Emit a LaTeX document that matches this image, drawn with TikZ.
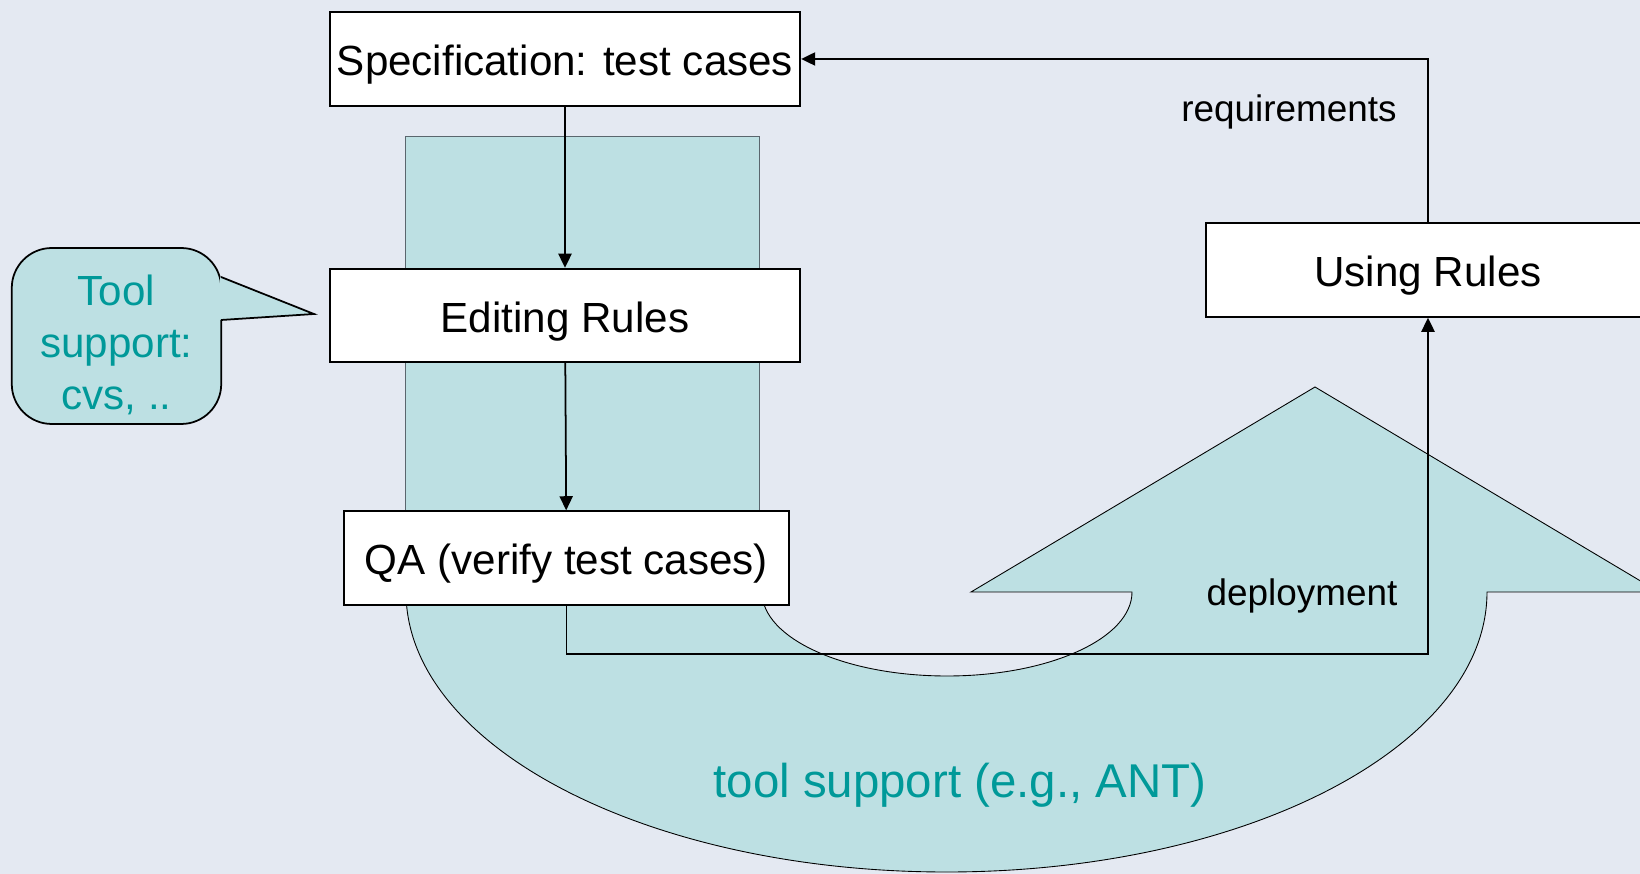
\documentclass[tikz,border=0pt]{standalone}
\usepackage{fontspec}
\setmainfont{Liberation Sans}
\usetikzlibrary{arrows.meta}

\definecolor{bgblue}{HTML}{E4E9F2}
\definecolor{tealfill}{HTML}{BDE0E3}
\definecolor{tealtext}{HTML}{009999}
\definecolor{edgegrey}{HTML}{5A666E}

\begin{document}
\begin{tikzpicture}
    [x=0.02cm, y=-0.02cm,
     box/.style={rectangle, draw, line width=1.1pt, fill=white, minimum height=1.87cm, text height=22pt, text depth=3pt, font=\fontsize{24}{29}\selectfont},
     label/.style={font=\fontsize{21}{25}\selectfont},
     arr/.style={line width=1pt, -{Triangle[length=8pt,width=7.5pt]}},
     shade/.style={fill=tealfill, draw, line width=0.5pt}]
    \useasboundingbox (0,0) rectangle (1640,874);
    \fill[bgblue] (0,0) rectangle (1640,874);
    \clip (0,0) rectangle (1640,874);

    % background shaft and U-turn arrow
    \draw[shade, draw=edgegrey] (405,136) rectangle (759,600);
    \draw[shade] (406,592) arc[start angle=180, end angle=0, x radius=540.5, y radius=280]
        -- (1659,592) -- (1315,387) -- (971,592) -- (1132,592)
        arc[start angle=0, end angle=180, x radius=185, y radius=84] -- cycle;
    \node[text=tealtext, font=\fontsize{27}{32}\selectfont] (ant) at (960,785) {tool support (e.g., ANT)};

    % callout
    \node[shade, line width=1pt, rounded corners=0.8cm, minimum width=4.19cm, minimum height=3.52cm] (callout) at (116.5,336) {};
    \coordinate (tip) at (314,314);
    \fill[tealfill] (220,277) -- (tip) -- (220,320) -- cycle;
    \draw[line width=1pt] (221,277) -- (tip) -- (221,320);
    \node[text=tealtext, align=center, font=\fontsize{24}{29.5}\selectfont] (cvs) at (116.5,345) {Tool\\support:\\cvs, ..};

    \node[box, minimum width=9.41cm] (spec) at (565,59) {Specification: test cases};
    \node[box, minimum width=9.41cm] (edit) at (565,315.5) {Editing Rules};
    \node[box, minimum width=8.9cm] (qa) at (566.5,558) {QA (verify test cases)};
    \node[box, minimum width=8.88cm] (use) at (1428,270) {Using Rules};

    \node[label] (req) at (1289,112) {requirements};
    \node[label] (dep) at (1302,596) {deployment};

    \draw[arr] (spec) -- (edit);
    \draw[arr] (edit) -- (qa);
    \draw[arr] (qa.south) -- ++(0,48) -| (use.south);
    \draw[arr] (use.north) |- (spec.east);
\end{tikzpicture}
\end{document}
